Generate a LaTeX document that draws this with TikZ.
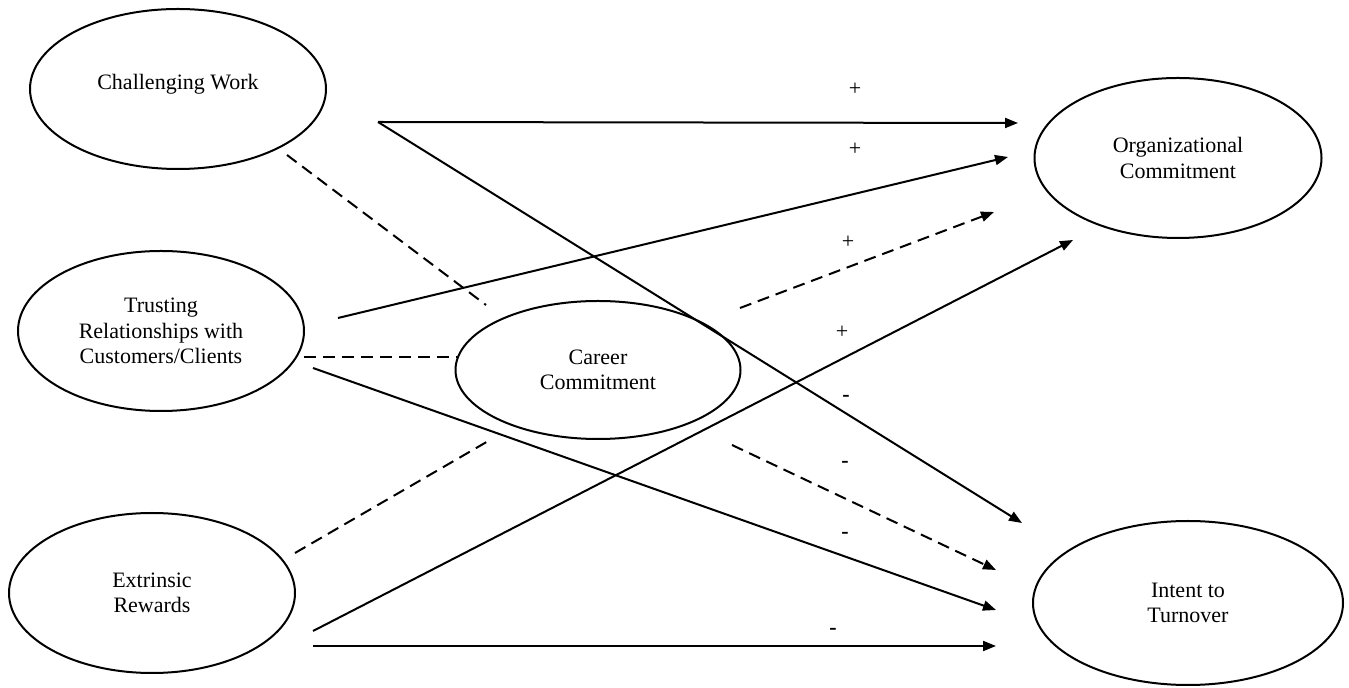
\documentclass[tikz,border=0pt]{standalone}
\usepackage{fontspec}
\setmainfont{Liberation Serif}
\usetikzlibrary{shapes.geometric,arrows.meta}
\begin{document}
\begin{tikzpicture}[x=0.5pt,y=-0.5pt,
  oval/.style={draw,ellipse,line width=1pt,inner sep=0pt,align=center,
    font=\fontsize{11pt}{12.75pt}\selectfont},
  conn/.style={line width=1pt},
  arr/.style={conn,-{Triangle[length=6.5pt,width=5pt]}},
  dsh/.style={dash pattern=on 6pt off 3.5pt},
  sign/.style={font=\fontsize{11pt}{12pt}\selectfont,inner sep=0pt},
  msign/.style={font=\fontsize{11pt}{12pt}\selectfont\bfseries,inner sep=0pt}]
\useasboundingbox (0,0) rectangle (1349,688);
% ellipses
\node[oval,minimum width=148pt,minimum height=80pt] (cw) at (178,89) {\raisebox{7pt}{Challenging Work}};
\node[oval,minimum width=143pt,minimum height=80pt] (tr) at (161,331) {Trusting\\Relationships with\\Customers/Clients};
\node[oval,minimum width=143pt,minimum height=80pt] (er) at (152,593) {Extrinsic\\Rewards};
\node[oval,minimum width=142.5pt,minimum height=69pt] (cc) at (598,370) {Career\\Commitment};
\node[oval,minimum width=143.5pt,minimum height=80pt] (oc) at (1178,158) {Organizational\\Commitment};
\node[oval,minimum width=155pt,minimum height=82pt] (it) at (1188,603) {Intent to\\Turnover};
% connector end points
\coordinate (cwS) at (378,122);
\coordinate (ocA) at (1018,123);
\coordinate (itA) at (1022,523);
\coordinate (trS) at (338,318);
\coordinate (ocB) at (1008,157);
\coordinate (ccS1) at (740,308);
\coordinate (ocC) at (994,212);
\coordinate (erS1) at (313,631);
\coordinate (ocD) at (1073,240);
\coordinate (ccS2) at (732,445);
\coordinate (itB) at (996,570);
\coordinate (trS2) at (313,368);
\coordinate (itC) at (996,610);
\coordinate (erS2) at (313,646);
\coordinate (itD) at (996,646);
% dashed links into career commitment
\coordinate (cwD) at (287,155);
\coordinate (ccD1) at (486,305);
\coordinate (trD) at (304,357);
\coordinate (ccD2) at (457,357);
\coordinate (erD) at (295,553);
\coordinate (ccD3) at (490,440);
\draw[conn,dsh] (cwD) -- (ccD1);
\draw[conn,dsh] (trD) -- (ccD2);
\draw[conn,dsh] (erD) -- (ccD3);
% arrows
\draw[arr] (cwS) -- (ocA);
\draw[arr] (cwS) -- (itA);
\draw[arr] (trS) -- (ocB);
\draw[arr,dsh] (ccS1) -- (ocC);
\draw[arr] (erS1) -- (ocD);
\draw[arr,dsh] (ccS2) -- (itB);
\draw[arr] (trS2) -- (itC);
\draw[arr] (erS2) -- (itD);
% signs
\node[sign] (p1) at (855,89) {+};
\node[sign] (p2) at (855,149) {+};
\node[sign] (p3) at (848,242) {+};
\node[sign] (p4) at (842,332) {+};
\node[msign] (m1) at (846,398) {-};
\node[msign] (m2) at (845,464) {-};
\node[msign] (m3) at (845,535) {-};
\node[msign] (m4) at (833,631) {-};
\end{tikzpicture}
\end{document}
